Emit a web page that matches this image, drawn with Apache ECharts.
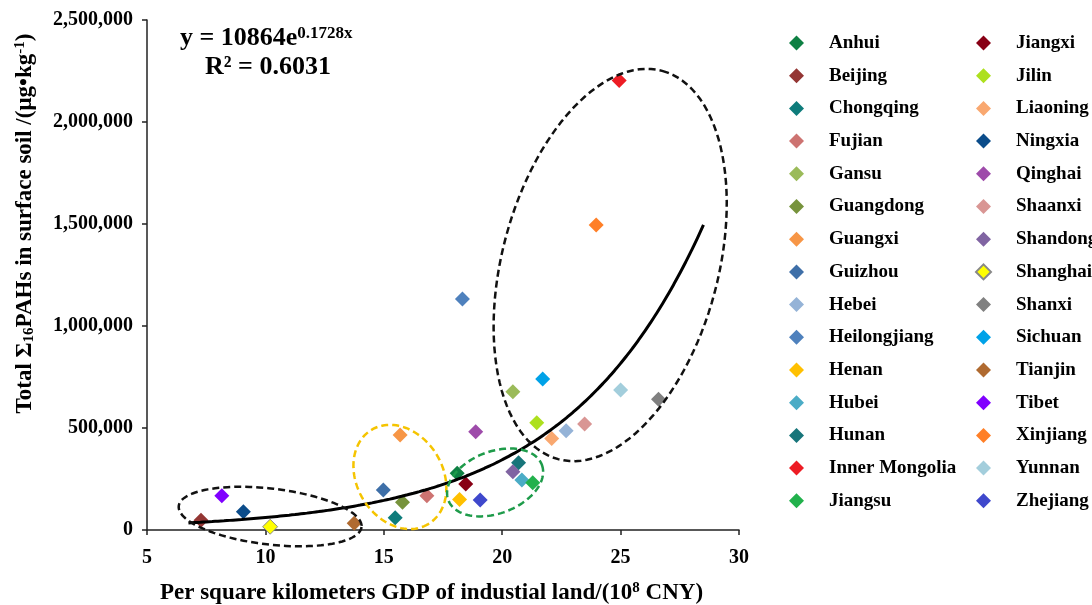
<!DOCTYPE html>
<html>
<head>
<meta charset="utf-8">
<script src="https://cdn.jsdelivr.net/npm/echarts@6/dist/echarts.min.js"></script>
<style>html,body{margin:0;padding:0;background:#fff}#c{width:1092px;height:605px}</style>
</head>
<body>
<div id="c"></div>
<script>
const provinces = ['Anhui','Beijing','Chongqing','Fujian','Gansu','Guangdong','Guangxi','Guizhou','Hebei','Heilongjiang','Henan','Hubei','Hunan','Inner Mongolia','Jiangsu',
  'Jiangxi','Jilin','Liaoning','Ningxia','Qinghai','Shaanxi','Shandong','Shanghai','Shanxi','Sichuan','Tianjin','Tibet','Xinjiang','Yunnan','Zhejiang'];
const gdpPerKm2 = [18.1, 7.28, 15.48, 16.82, 20.45, 15.79, 15.69, 14.98, 22.7, 18.32, 18.2, 20.83, 20.69, 24.94, 21.29,
  18.46, 21.46, 22.09, 9.07, 18.88, 23.48, 20.45, 10.2, 26.6, 21.71, 13.75, 8.16, 23.97, 25.0, 19.07];
const pahs = [278000, 48000, 60000, 168000, 678000, 136000, 466000, 196000, 487000, 1132000, 150000, 245000, 330000, 2203000, 232000,
  225000, 526000, 449000, 90000, 482000, 520000, 286000, 16000, 641000, 740000, 33000, 168000, 1495000, 686000, 147000];
const colors = ['#0E8043','#943634','#0E7C7B','#CD7371','#9BBB59','#77933C','#F79646','#3E6FA8','#95B3D7','#4F81BD','#FFC000','#4BACC6','#17757A','#ED1C24','#22B14C',
  '#880015','#ADE01E','#F9A870','#0B4C8A','#9E4BAA','#D99694','#8064A2','#FFFF00','#808080','#00A2E8','#B06A30','#8000FF','#FF7F27','#A3CEDC','#3F48CC'];
const xTicks = [5, 10, 15, 20, 25, 30];
const yTicks = [0, 500000, 1000000, 1500000, 2000000, 2500000];
// fitted trend: y = 10864 e^(0.1728 x), drawn from x = 6.75 to 28.6
const fitA = 10864, fitB = 0.1728, fitFrom = 6.75, fitTo = 28.6;
// annotation ellipses: centre in data units, semi-axes in px, angle in degrees
const ellipses = [
  {cx: 10.2, cy: 66000, a: 92, b: 28, ang: 6.6, color: '#111'},
  {cx: 15.68, cy: 260000, a: 55, b: 43, ang: 59, color: '#F5C400'},
  {cx: 19.7, cy: 233000, a: 50, b: 31, ang: -20.7, color: '#1E9B4A'},
  {cx: 24.56, cy: 1299000, a: 201, b: 108, ang: -75, color: '#111'}
];

const fitLine = [];
for (let x = fitFrom; x <= fitTo + 1e-9; x += 0.25) fitLine.push([x, fitA * Math.exp(fitB * x)]);

const serif = 'Liberation Serif';
const series = provinces.map((p, i) => ({
  name: p, type: 'scatter', symbol: 'diamond', symbolSize: 15,
  itemStyle: {color: colors[i], borderColor: p === 'Shanghai' ? '#888' : colors[i], borderWidth: p === 'Shanghai' ? 1 : 0, opacity: 1},
  data: [[gdpPerKm2[i], pahs[i]]], z: 3
}));
series.push({type: 'line', data: fitLine, showSymbol: false, smooth: true, lineStyle: {color: '#000', width: 3}, z: 5, silent: true});

const legendBase = {
  orient: 'vertical', itemWidth: 15, itemHeight: 15, itemGap: 12.7,
  textStyle: {fontFamily: serif, fontWeight: 'bold', fontSize: 19, color: '#000', lineHeight: 20, padding: [0, 0, 0, 20]},
  icon: 'diamond'
};

const chart = echarts.init(document.getElementById('c'));
chart.setOption({
  animation: false,
  backgroundColor: '#fff',
  grid: {left: 147, right: 353, top: 20, bottom: 75, containLabel: false, outerBoundsMode: 'none'},
  legend: [
    Object.assign({}, legendBase, {left: 784, top: 28, data: provinces.slice(0, 15)}),
    Object.assign({}, legendBase, {left: 970, top: 28, data: provinces.slice(15)})
  ],
  xAxis: {
    type: 'value', min: xTicks[0], max: xTicks[xTicks.length - 1], interval: 5,
    name: 'Per square kilometers GDP of industial land/(10{sup|8} CNY)',
    nameLocation: 'middle', nameGap: 51,
    nameTextStyle: {fontFamily: serif, fontWeight: 'bold', fontSize: 23, color: '#000', padding: [0, 23, 0, 0],
      rich: {sup: {fontFamily: serif, fontWeight: 'bold', fontSize: 15, verticalAlign: 'top', color: '#000', padding: [0, 0, 9, 0]}}},
    axisLine: {lineStyle: {color: '#222', width: 1.5}},
    axisTick: {inside: false, length: 5, lineStyle: {color: '#222', width: 1.5}},
    axisLabel: {fontFamily: serif, fontWeight: 'bold', fontSize: 20, color: '#000', margin: 18},
    splitLine: {show: false}
  },
  yAxis: {
    type: 'value', min: yTicks[0], max: yTicks[yTicks.length - 1], interval: 500000,
    name: 'Total Σ{sub|16}PAHs in surface soil /(μg•kg{sup|-1})',
    nameLocation: 'middle', nameGap: 110, nameRotate: 90,
    nameTextStyle: {fontFamily: serif, fontWeight: 'bold', fontSize: 23, color: '#000', padding: [0, 0, 0, 103],
      rich: {
        sub: {fontFamily: serif, fontWeight: 'bold', fontSize: 15, color: '#000', verticalAlign: 'bottom', padding: [7, 0, 0, 0]},
        sup: {fontFamily: serif, fontWeight: 'bold', fontSize: 15, color: '#000', verticalAlign: 'top', padding: [0, 0, 9, 0]}
      }},
    axisLine: {show: true, lineStyle: {color: '#222', width: 1.5}},
    axisTick: {show: true, inside: false, length: 5, lineStyle: {color: '#222', width: 1.5}},
    axisLabel: {fontFamily: serif, fontWeight: 'bold', fontSize: 20, color: '#000', margin: 14,
      formatter: v => v.toLocaleString('en-US')},
    splitLine: {show: false}
  },
  series: series
});

function ellipsePoints(e) {
  const c = chart.convertToPixel({gridIndex: 0}, [e.cx, e.cy]);
  const r = e.ang * Math.PI / 180, pts = [];
  for (let k = 0; k < 120; k++) {
    const t = k / 120 * Math.PI * 2;
    const u = e.a * Math.cos(t), v = e.b * Math.sin(t);
    pts.push([c[0] + u * Math.cos(r) - v * Math.sin(r), c[1] + u * Math.sin(r) + v * Math.cos(r)]);
  }
  return pts;
}

const graphics = ellipses.map(e => ({
  type: 'polygon', shape: {points: ellipsePoints(e)}, silent: true, z: 10,
  style: {fill: 'none', stroke: e.color, lineWidth: 2.5, lineDash: [7, 4]}
}));
graphics.push({
  type: 'text', left: 180, top: 25, z: 20,
  style: {text: 'y = 10864e{sup|0.1728x}', fill: '#000', font: 'bold 26px "Liberation Serif"',
    rich: {sup: {font: 'bold 17px "Liberation Serif"', fill: '#000', verticalAlign: 'top', padding: [0, 0, 10, 0]}}}
});
graphics.push({
  type: 'text', left: 205, top: 54, z: 20,
  style: {text: 'R² = 0.6031', fill: '#000', font: 'bold 26px "Liberation Serif"'}
});
chart.setOption({graphic: graphics});
</script>
</body>
</html>
